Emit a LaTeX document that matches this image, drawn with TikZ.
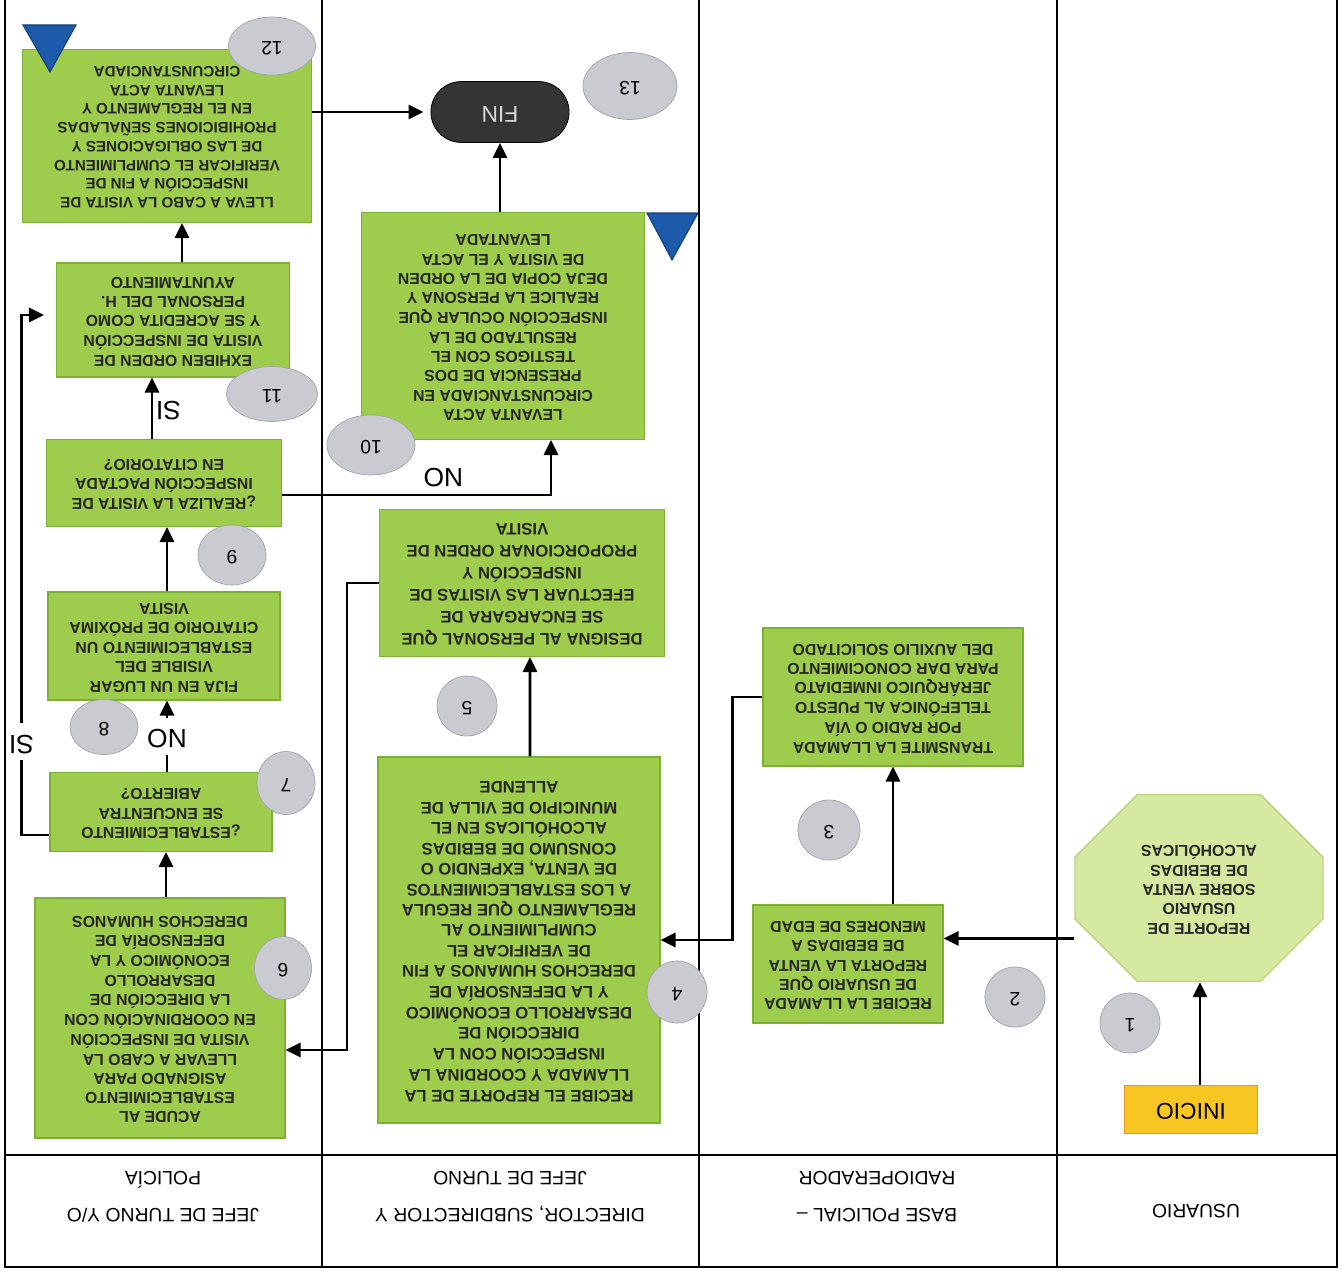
\documentclass[tikz,border=0pt]{standalone}
\usepackage{fontspec}
\setmainfont{Liberation Sans}
\usepackage{graphicx}
\usetikzlibrary{arrows.meta,positioning,calc,shapes.geometric,shapes.misc}

\definecolor{boxgreen}{RGB}{158,204,76}
\definecolor{boxedge}{RGB}{122,176,52}
\definecolor{palegreen}{RGB}{214,233,160}
\definecolor{paleedge}{RGB}{184,210,126}
\definecolor{startgold}{RGB}{248,198,34}
\definecolor{startedge}{RGB}{230,150,30}
\definecolor{endgray}{RGB}{52,52,52}
\definecolor{numgray}{RGB}{201,203,208}
\definecolor{numedge}{RGB}{160,163,170}
\definecolor{connblue}{RGB}{30,90,170}

% text is printed upside down, as in the scanned chart
\newcommand{\Flip}[1]{\rotatebox[origin=c]{180}{\begin{tabular}{@{}c@{}}#1\end{tabular}}}
\newcommand{\FlowBox}[6][]{%
  \node[flowbox, #1, minimum width=#4*0.02cm, minimum height=#5*0.02cm] (#2) at (#3) {\Flip{#6}};
}
\newcommand{\StepNum}[4]{%
  \node[stepnum, minimum width=#3*0.02cm, minimum height=#4*0.02cm] (s#1) at (#2) {\Flip{#1}};
}

\tikzset{
  flowbox/.style={draw=boxedge, fill=boxgreen, line width=0.6pt, inner sep=2pt,
    text=black!85, font=\bfseries\fontsize{9}{11}\selectfont},
  stepnum/.style={ellipse, draw=numedge, fill=numgray, inner sep=0pt,
    font=\fontsize{11}{13}\selectfont},
  flow/.style={-{Triangle[length=3mm,width=2.8mm]}, line width=1.6pt},
  lbl/.style={fill=white, inner sep=1.5pt, font=\fontsize{15}{18}\selectfont},
  lane/.style={line width=0.8pt},
  head/.style={font=\fontsize{11}{21}\selectfont},
  offpage/.style={fill=connblue, draw=connblue!70!black, line width=0.6pt},
}

\begin{document}
\begin{tikzpicture}[x=0.02cm, y=-0.02cm]
  \useasboundingbox (0,0) rectangle (1342,1274);

  % swimlanes
  \draw[lane] (5,0) -- (5,1267) -- (1337,1267) -- (1337,0);
  \draw[lane] (5,1155) -- (1337,1155);
  \foreach \x in {322,699,1057}
    \draw[lane] (\x,0) -- (\x,1267);

  \node[head] (hpol) at (163,1197) {\Flip{JEFE DE TURNO Y/O\\POLICÍA}};
  \node[head] (hdir) at (510,1197) {\Flip{DIRECTOR, SUBDIRECTOR Y\\JEFE DE TURNO}};
  \node[head] (hbase) at (877,1197) {\Flip{BASE POLICIAL –\\RADIOPERADOR}};
  \node[head] (husu) at (1196,1212) {\Flip{USUARIO}};

  % usuario
  \node[draw=startedge, fill=startgold, minimum width=2.66cm, minimum height=0.96cm,
    font=\fontsize{13}{15}\selectfont] (inicio) at (1191,1109) {\Flip{INICIO}};
  \node[chamfered rectangle, chamfered rectangle xsep=0.55cm, chamfered rectangle ysep=0.7cm,
    draw=paleedge, fill=palegreen, line width=0.8pt, minimum width=4.96cm, minimum height=3.74cm,
    font=\bfseries\fontsize{9}{11}\selectfont, text=black!85] (reporte) at (1199,888)
    {\Flip{REPORTE DE\\USUARIO\\SOBRE VENTA\\DE BEBIDAS\\ALCOHÓLICAS}};

  % base policial
  \FlowBox{recibe}{848,964}{190}{118}{RECIBE LA LLAMADA\\DE USUARIO QUE\\REPORTA LA VENTA\\DE BEBIDAS A\\MENORES DE EDAD}
  \FlowBox{transmite}{893,697}{260}{138}{TRANSMITE LA LLAMADA\\POR RADIO O VÍA\\TELEFÓNICA AL PUESTO\\JERÁRQUICO INMEDIATO\\PARA DAR CONOCIMIENTO\\DEL AUXILIO SOLICITADO}

  % director
  \FlowBox[font=\bfseries\fontsize{9.5}{11.6}\selectfont]{coordina}{519,940}{282}{366}{RECIBE EL REPORTE DE LA\\LLAMADA Y COORDINA LA\\INSPECCIÓN CON LA\\DIRECCIÓN DE\\DESARROLLO ECONÓMICO\\Y LA DEFENSORÍA DE\\DERECHOS HUMANOS A FIN\\DE VERIFICAR EL\\CUMPLIMIENTO AL\\REGLAMENTO QUE REGULA\\A LOS ESTABLECIMIENTOS\\DE VENTA, EXPENDIO O\\CONSUMO DE BEBIDAS\\ALCOHÓLICAS EN EL\\MUNICIPIO DE VILLA DE\\ALLENDE}
  \FlowBox[font=\bfseries\fontsize{9.5}{12.5}\selectfont]{designa}{522,583}{285}{147}{DESIGNA AL PERSONAL QUE\\SE ENCARGARA DE\\EFECTUAR LAS VISITAS DE\\INSPECCIÓN Y\\PROPORCIONAR ORDEN DE\\VISITA}
  \FlowBox{acta}{503,326}{283}{227}{LEVANTA ACTA\\CIRCUNSTANCIADA EN\\PRESENCIA DE DOS\\TESTIGOS CON EL\\RESULTADO DE LA\\INSPECCIÓN OCULAR QUE\\REALICE LA PERSONA Y\\DEJA COPIA DE LA ORDEN\\DE VISITA Y EL ACTA\\LEVANTADA}
  \node[rounded rectangle, fill=endgray, draw=black, minimum width=3cm, minimum height=1.22cm,
    text=white!85!black, font=\fontsize{13}{15}\selectfont] (fin) at (500,112) {\Flip{FIN}};

  % jefe de turno
  \FlowBox{acude}{160,1018}{250}{240}{ACUDE AL\\ESTABLECIMIENTO\\ASIGNADO PARA\\LLEVAR A CABO LA\\VISITA DE INSPECCIÓN\\EN COORDINACIÓN CON\\LA DIRECCIÓN DE\\DESARROLLO\\ECONÓMICO Y LA\\DEFENSORÍA DE\\DERECHOS HUMANOS}
  \FlowBox{abierto}{161,812}{222}{79}{¿ESTABLECIMIENTO\\SE ENCUENTRA\\ABIERTO?}
  \FlowBox{fija}{164,646}{232}{108}{FIJA EN UN LUGAR\\VISIBLE DEL\\ESTABLECIMIENTO UN\\CITATORIO DE PRÓXIMA\\VISITA}
  \FlowBox{pactada}{164,483}{235}{87}{¿REALIZA LA VISITA DE\\INSPECCIÓN PACTADA\\EN CITATORIO?}
  \FlowBox{exhiben}{173,320}{233}{114}{EXHIBEN ORDEN DE\\VISITA DE INSPECCIÓN\\Y SE ACREDITA COMO\\PERSONAL DEL H.\\AYUNTAMIENTO}
  \FlowBox[font=\bfseries\fontsize{8.6}{10.6}\selectfont]{lleva}{167,136}{289}{173}{LLEVA A CABO LA VISITA DE\\INSPECCIÓN A FIN DE\\VERIFICAR EL CUMPLIMIENTO\\DE LAS OBLIGACIONES Y\\PROHIBICIONES SEÑALADAS\\EN EL REGLAMENTO Y\\LEVANTA ACTA\\CIRCUNSTANCIADA}

  % off-page connectors
  \fill[offpage] (647,213) -- (698,213) -- (672,260) -- cycle;
  \fill[offpage] (23,25) -- (76,25) -- (50,72) -- cycle;

  % connectors
  \draw[flow] (inicio.north -| 1200,0) -- (reporte.south -| 1200,0);
  \draw[flow] (reporte.west |- recibe.15) -- (recibe.15);
  \draw[flow] (transmite.south |- recibe.north) -- (transmite.south);
  \draw[flow] (transmite.west) -- ++(-30,0) |- (coordina.east);
  \draw[flow] (coordina.north -| designa.south) ++(8,0) -- ([xshift=0.16cm]designa.south);
  \draw[flow] (designa.west) -- ++(-32,0) |- ([yshift=-0.64cm]acude.east);
  \draw[flow] ([xshift=0.12cm]acude.north) -- ([xshift=0.12cm]acude.north |- abierto.south);
  \draw[flow] ([xshift=0.12cm]abierto.north) -- node[lbl] {\Flip{NO}} ([xshift=0.12cm]abierto.north |- fija.south);
  \draw[flow, shorten >=0.24cm] ([yshift=-0.46cm]abierto.west) -- ++(-28,0)
    |- node[lbl, pos=0.09] {\Flip{SI}} ([yshift=0.1cm]exhiben.west);
  \draw[flow] ([xshift=0.06cm]fija.north) -- ([xshift=0.06cm]fija.north |- pactada.south);
  \draw[flow] ([yshift=-0.24cm]pactada.east) -| node[pos=0.3, above, lbl, fill=none] {\Flip{NO}} ([xshift=0.96cm]acta.south);
  \draw[flow] ([xshift=-0.24cm]pactada.north) -- node[right, lbl, fill=none] {\Flip{SI}} ([xshift=-0.24cm]pactada.north |- exhiben.south);
  \draw[flow] ([xshift=0.18cm]exhiben.north) -- ([xshift=0.18cm]exhiben.north |- lleva.south);
  \draw[flow] (fin.south |- acta.north) -- (fin.south);
  \draw[flow, shorten >=0.14cm] (lleva.east |- fin.west) -- (fin.west);

  % step numbers
  \StepNum{1}{1130,1023}{60}{60}
  \StepNum{2}{1015,997}{60}{60}
  \StepNum{3}{829,830}{62}{60}
  \StepNum{4}{677,992}{60}{62}
  \StepNum{5}{467,706}{60}{60}
  \StepNum{6}{283,968}{57}{63}
  \StepNum{7}{286,783}{58}{63}
  \StepNum{8}{104,727}{68}{55}
  \StepNum{9}{232,555}{68}{60}
  \StepNum{10}{371,445}{88}{60}
  \StepNum{11}{272,394}{91}{55}
  \StepNum{12}{272,46}{87}{58}
  \StepNum{13}{630,86}{94}{67}
\end{tikzpicture}
\end{document}
